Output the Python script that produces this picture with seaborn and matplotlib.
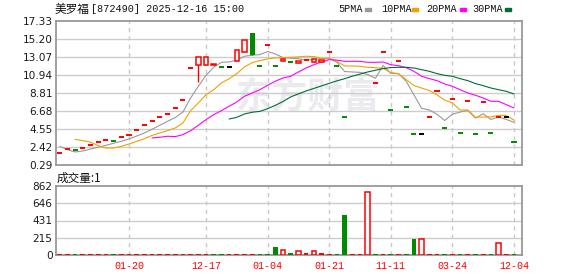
import numpy as np
import pandas as pd
import matplotlib
matplotlib.use("Agg")
import matplotlib.pyplot as plt
import seaborn as sns
from matplotlib.patches import Rectangle

# ---------------- data ----------------
title_name = "美罗福"
title_rest = "[872490] 2025-12-16 15:00"
vol_title = "成交量:1"
watermark = "东方财富"
ma_names = ["5PMA", "10PMA", "20PMA", "30PMA"]
x_tick_pos = [9, 19, 27, 35, 43, 51, 59]
x_tick_labels = ["01-20", "12-17", "01-04", "01-21", "11-11", "03-24", "12-04"]
price_ticks = [0.29, 2.42, 4.55, 6.68, 8.81, 10.94, 13.07, 15.20, 17.33]
vol_ticks = [0, 215, 431, 646, 862]

nan = np.nan
opens = [1.67, 2.15, 2.03, 2.27, 2.62, 2.98, 3.21, 3.09, 3.57, 3.80,
         4.40, 4.99, 5.46, 5.93, 6.29, 7.00, 7.98, 11.73, 12.09, 12.09,
         12.10, 11.93, 11.93, 12.56, 13.65, 15.93, 12.01, 14.45, 12.01, 12.55,
         12.44, 12.38, 12.68, 12.44, 12.44, 13.62, 12.01, 5.93, nan, nan,
         nan, 9.96, 13.63, 6.80, 12.56, 7.12, 3.92, 3.92, 5.93, 9.05,
         4.63, 8.06, 4.04, 7.86, 3.92, 7.71, 4.04, 5.93, 5.93, 2.98]
closes = [1.67, 2.15, 2.03, 2.27, 2.62, 2.98, 3.21, 3.09, 3.57, 3.80,
          4.40, 4.99, 5.46, 5.93, 6.29, 7.00, 7.98, 11.73, 13.04, 13.04,
          12.24, 11.93, 11.93, 13.93, 15.08, 13.32, 12.01, 14.45, 12.01, 12.82,
          12.44, 12.56, 12.68, 12.80, 12.72, 13.62, 12.01, 5.93, nan, nan,
          nan, 9.96, 13.63, 6.80, 12.56, 7.12, 3.92, 3.92, 5.93, 9.05,
          4.63, 8.06, 4.04, 7.86, 3.92, 7.71, 4.04, 5.93, 5.93, 2.98]
highs = [max(o, c) if not np.isnan(o) else nan for o, c in zip(opens, closes)]
lows = [min(o, c) if not np.isnan(o) else nan for o, c in zip(opens, closes)]
lows[18] = 10.08

ma5 = [2.50, 2.10, 1.83, 1.95, 2.17, 2.40, 2.62, 2.86, 3.10, 3.37,
       3.72, 4.08, 4.52, 4.99, 5.46, 5.90, 6.55, 8.22, 9.60, 10.90,
       11.85, 12.44, 12.48, 12.70, 13.16, 13.28, 13.35, 13.72, 13.43, 13.00,
       12.92, 12.87, 12.68, 12.80, 12.87, 12.95, 12.45, 11.35, 11.30, 11.25,
       11.00, 10.55, 12.06, 11.14, 11.10, 10.20, 8.60, 7.00, 6.80, 6.30,
       5.55, 6.30, 6.55, 6.75, 5.85, 6.36, 5.68, 5.98, 5.68, 5.34]
ma10 = [nan, nan, 3.33, 3.17, 3.01, 2.57, 2.30, 2.30, 2.50, 2.77,
        3.09, 3.40, 3.80, 4.08, 4.35, 4.67, 5.26, 6.72, 7.63, 8.61,
        9.20, 10.00, 10.50, 11.10, 11.90, 12.40, 12.64, 12.85, 12.95, 13.00,
        13.04, 13.08, 13.16, 13.12, 12.92, 12.85, 12.56, 12.01, 12.01, 11.97,
        11.85, 11.80, 11.73, 11.22, 11.10, 10.40, 9.70, 9.40, 9.10, 8.60,
        7.95, 7.65, 6.80, 6.80, 5.93, 5.97, 5.97, 6.17, 6.15, 5.60]
ma20 = [nan] * 12 + [3.49, 3.57, 3.69, 3.65, 3.88, 4.35, 4.99, 5.65,
                     6.24, 6.72, 7.24, 7.75, 8.42, 8.81, 9.20, 9.72, 10.20, 10.59,
                     10.79, 11.30, 11.77, 12.16, 12.48, 12.76, 12.70, 12.56, 12.56, 12.56,
                     12.44, 12.44, 12.48, 12.16, 12.04, 11.81, 11.38, 10.79, 10.51, 10.27,
                     9.88, 9.60, 9.20, 8.81, 8.54, 8.22, 7.83, 7.83, 7.43, 7.04]
ma30 = [nan] * 22 + [5.73, 5.93, 6.33, 6.53, 6.64, 6.95, 7.35, 7.80,
                     8.35, 8.70, 9.05, 9.35, 9.65, 9.95, 10.25, 10.50, 10.80, 11.05,
                     11.30, 11.50, 11.70, 11.82, 11.85, 11.85, 11.77, 11.57, 11.38, 11.10,
                     10.90, 10.79, 10.51, 10.27, 9.92, 9.68, 9.40, 9.20, 9.01, 8.69]

volume = [12] * 60
volume[28] = 100
volume[29] = 62
volume[30] = 25
volume[31] = 50
volume[32] = 25
volume[33] = 50
volume[34] = 25
volume[37] = 500
volume[40] = 791
volume[46] = 200
volume[47] = 200
volume[57] = 146
vol_kind = list("rrgrrrrgrrrrrrrrrrrrggrrrrggghghrhrrggrrhgrgrgghrrgrgrgrghrg")

# ---------------- style ----------------
sns.set_theme(style="white")
plt.rcParams["font.family"] = ["DejaVu Sans"]

RED = "#ff0000"
GREEN = "#008a00"
ma_colors = {"5PMA": "#999999", "10PMA": "#f2a000", "20PMA": "#ff00ff", "30PMA": "#006d36"}
FW, FH = 578, 276
L, R = 56, 522

fig = plt.figure(figsize=(FW / 100, FH / 100), dpi=100)
fig.patch.set_facecolor("white")
ax = fig.add_axes([L / FW, (FH - 165) / FH, (R - L) / FW, 144 / FH])
axv = fig.add_axes([L / FW, (FH - 255) / FH, (R - L) / FW, 69 / FH])

idx = np.arange(len(opens))
xlim = (-0.48, 60.04)

for a in (ax, axv):
    a.set_facecolor("white")
    a.set_xlim(*xlim)
    for s in a.spines.values():
        s.set_color("#999999")
        s.set_linewidth(1.3)
    for xp in x_tick_pos:
        a.axvline(xp, color="#c8c8c8", lw=1, ls=(0, (3, 3)), zorder=0.5)
    a.tick_params(length=0, labelsize=7.6, colors="#1a1a1a", pad=2.5)

# watermark (behind the marks)
ax.text(308 / FW, 1 - 97 / FH, watermark, transform=fig.transFigure,
        family=["Noto Sans CJK SC"], fontsize=26, fontweight="bold",
        color="#ebebef", ha="center", va="center", zorder=0.3)

# price panel
ax.set_ylim(price_ticks[0], price_ticks[-1])
ax.set_yticks(price_ticks)
ax.set_yticklabels([f"{t:.2f}" for t in price_ticks])
for t in price_ticks[1:-1]:
    ax.axhline(t, color="#cccccc", lw=1, zorder=0.5)
ax.set_xticks([])

ma_df = pd.DataFrame({"idx": idx, "5PMA": ma5, "10PMA": ma10, "20PMA": ma20, "30PMA": ma30})
ma_long = ma_df.melt(id_vars="idx", var_name="series", value_name="value").dropna()
sns.lineplot(data=ma_long, x="idx", y="value", hue="series", palette=ma_colors,
             hue_order=ma_names, estimator=None, sort=False, legend=False,
             lw=0.8, ax=ax, zorder=2.5)
ax.set_xlabel("")
ax.set_ylabel("")

prev = None
for i in idx:
    o, c, h, l = opens[i], closes[i], highs[i], lows[i]
    if np.isnan(o):
        continue
    if c > o:
        ax.vlines(i, l, h, color=RED, lw=1, zorder=3)
        ax.bar(i, c - o, bottom=o, width=0.58, facecolor="white", edgecolor=RED,
               linewidth=1.1, zorder=3.2)
    elif c < o:
        ax.vlines(i, l, h, color=GREEN, lw=1, zorder=3)
        ax.bar(i, o - c, bottom=c, width=0.62, color=GREEN, linewidth=0, zorder=3.2)
    else:
        if prev is None or c > prev:
            col = RED
        elif c < prev:
            col = GREEN
        else:
            col = "black"
        ax.hlines(c, i - 0.33, i + 0.33, color=col, lw=1.4, zorder=3)
    prev = c

# volume panel
axv.set_ylim(vol_ticks[0], vol_ticks[-1])
axv.set_yticks(vol_ticks)
axv.set_yticklabels([str(t) for t in vol_ticks])
for t in vol_ticks[1:-1]:
    axv.axhline(t, color="#cccccc", lw=1, zorder=0.5)
for i in idx:
    k = vol_kind[i]
    v = volume[i]
    if k == "h":
        axv.bar(i, v, width=0.58, facecolor="white", edgecolor=RED, linewidth=1.1, zorder=3)
    else:
        axv.bar(i, v, width=0.62, color=RED if k == "r" else GREEN, linewidth=0, zorder=3)
axv.set_xticks(x_tick_pos)
axv.set_xticklabels(x_tick_labels, family="Liberation Mono", fontsize=7.2, color=RED)
axv.tick_params(axis="x", pad=4, colors=RED)

# texts
fig.text(55 / FW, 1 - 9.5 / FH, title_name, family=["Noto Sans CJK SC"], fontsize=8.4,
         va="center", ha="left", color="#111111")
fig.text(91 / FW, 1 - 9.5 / FH, title_rest, family=["Liberation Mono"], fontsize=7.3,
         va="center", ha="left", color="#111111")
fig.text(57 / FW, 1 - 178 / FH, vol_title, family=["Noto Sans CJK SC", "DejaVu Sans"],
         fontsize=8.4, va="center", ha="left", color="#111111")

leg_x = [338, 381, 426, 472]
rect_x = [365, 412, 460, 505]
for name, tx, rx in zip(ma_names, leg_x, rect_x):
    fig.text(tx / FW, 1 - 9.5 / FH, name, family=["Liberation Mono"], fontsize=7.3,
             va="center", ha="left", color="#111111")
    fig.patches.append(Rectangle((rx / FW, 1 - 11 / FH), 5.5 / FW, 3 / FH,
                                 transform=fig.transFigure, color=ma_colors[name]))

fig.savefig("out.png", dpi=100)
